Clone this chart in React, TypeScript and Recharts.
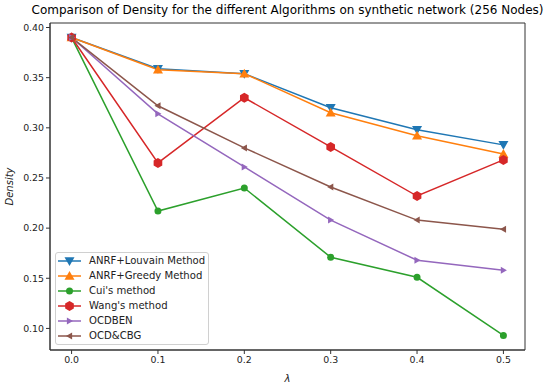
import { LineChart, Line, XAxis, YAxis, ReferenceArea } from "recharts";

const lambdas = [0, 0.1, 0.2, 0.3, 0.4, 0.5];
const louvain = [0.39, 0.359, 0.354, 0.32, 0.298, 0.283];
const greedy = [0.39, 0.358, 0.354, 0.315, 0.292, 0.274];
const cui = [0.39, 0.217, 0.24, 0.171, 0.151, 0.093];
const wang = [0.39, 0.265, 0.33, 0.281, 0.232, 0.268];
const ocdben = [0.39, 0.314, 0.261, 0.208, 0.168, 0.158];
const ocdcbg = [0.39, 0.322, 0.28, 0.241, 0.208, 0.199];

const xTicks = [0, 0.1, 0.2, 0.3, 0.4, 0.5];
const yTicks = [0.1, 0.15, 0.2, 0.25, 0.3, 0.35, 0.4];

const FONT = "'DejaVu Sans', sans-serif";

const series = [
  { key: "louvain", name: "ANRF+Louvain Method", color: "#1f77b4", marker: "down", size: 10 },
  { key: "greedy", name: "ANRF+Greedy Method", color: "#ff7f0e", marker: "up", size: 10 },
  { key: "cui", name: "Cui's method", color: "#2ca02c", marker: "circle", size: 7 },
  { key: "wang", name: "Wang's method", color: "#d62728", marker: "hex", size: 10 },
  { key: "ocdben", name: "OCDBEN", color: "#9467bd", marker: "right", size: 7 },
  { key: "ocdcbg", name: "OCD&CBG", color: "#8c564b", marker: "left", size: 7 },
];

const data = lambdas.map((x, i) => ({
  x,
  louvain: louvain[i],
  greedy: greedy[i],
  cui: cui[i],
  wang: wang[i],
  ocdben: ocdben[i],
  ocdcbg: ocdcbg[i],
}));

function markerPath(shape: string, cx: number, cy: number, s: number) {
  const r = s / 2;
  switch (shape) {
    case "down":
      return `M${cx - r},${cy - r * 0.75} L${cx + r},${cy - r * 0.75} L${cx},${cy + r} Z`;
    case "up":
      return `M${cx - r},${cy + r * 0.75} L${cx + r},${cy + r * 0.75} L${cx},${cy - r} Z`;
    case "right":
      return `M${cx - r * 0.75},${cy - r} L${cx - r * 0.75},${cy + r} L${cx + r},${cy} Z`;
    case "left":
      return `M${cx + r * 0.75},${cy - r} L${cx + r * 0.75},${cy + r} L${cx - r},${cy} Z`;
    case "hex": {
      let d = "";
      for (let k = 0; k < 6; k++) {
        const a = (Math.PI / 3) * k - Math.PI / 2;
        d += `${k === 0 ? "M" : "L"}${cx + r * Math.cos(a)},${cy + r * Math.sin(a)} `;
      }
      return d + "Z";
    }
    default:
      return `M${cx - r},${cy} a${r},${r} 0 1,0 ${2 * r},0 a${r},${r} 0 1,0 ${-2 * r},0 Z`;
  }
}

function LegendBox() {
  return (
    <div
      style={{
        position: "absolute",
        left: 55,
        top: 252,
        border: "1px solid #d0d0d0",
        borderRadius: 3,
        background: "rgba(255,255,255,0.8)",
        padding: "0px 3px 1px 1px",
        fontFamily: FONT,
        fontSize: 10.1,
        color: "#222",
      }}
    >
      {series.map((s) => (
        <div key={s.key} style={{ display: "flex", alignItems: "center", height: 15 }}>
          <svg width={26} height={14} style={{ marginRight: 6 }}>
            <line x1={1} y1={7} x2={24} y2={7} stroke={s.color} strokeWidth={1.5} />
            <path d={markerPath(s.marker, 12.5, 7, s.size)} fill={s.color} />
          </svg>
          <span>{s.name}</span>
        </div>
      ))}
    </div>
  );
}

export default function App() {
  return (
    <div style={{ position: "absolute", left: 0, top: 0, width: 550, height: 387, background: "#fff" }}>
      <div
        style={{
          position: "absolute",
          left: 0,
          width: 575,
          top: 3,
          textAlign: "center",
          fontFamily: FONT,
          fontSize: 12,
          color: "#000",
          whiteSpace: "nowrap",
        }}
      >
        Comparison of Density for the different Algorithms on synthetic network (256 Nodes)
      </div>
      <LineChart
        width={550}
        height={387}
        data={data}
        margin={{ top: 23, right: 25, left: 0, bottom: 0 }}
      >
        <ReferenceArea
          x1={-0.025}
          x2={0.525}
          y1={0.0785}
          y2={0.4045}
          fill="none"
          stroke="#333"
          strokeWidth={1}
          fillOpacity={0}
        />
        <XAxis
          dataKey="x"
          type="number"
          domain={[-0.025, 0.525]}
          ticks={xTicks}
          tickFormatter={(v) => Number(v).toFixed(1)}
          height={37}
          tickSize={4}
          stroke="#333"
          tick={{ fill: "#222", fontSize: 9.4, fontFamily: FONT }}
          allowDataOverflow
          label={{
            content: (p: any) => {
              const vb = p.viewBox;
              return (
                <text
                  x={vb.x + vb.width / 2}
                  y={vb.y + 32}
                  textAnchor="middle"
                  fontFamily={FONT}
                  fontSize={10}
                  fontStyle="italic"
                  fill="#222"
                >
                  λ
                </text>
              );
            },
          }}
        />
        <YAxis
          type="number"
          domain={[0.0785, 0.4045]}
          ticks={yTicks}
          tickFormatter={(v) => Number(v).toFixed(2)}
          width={50}
          tickSize={4}
          stroke="#333"
          tick={{ fill: "#222", fontSize: 9.4, fontFamily: FONT }}
          allowDataOverflow
          label={{
            content: (p: any) => {
              const vb = p.viewBox;
              const x = vb.x + 13;
              const y = vb.y + vb.height / 2;
              return (
                <text
                  x={x}
                  y={y}
                  transform={`rotate(-90 ${x} ${y})`}
                  textAnchor="middle"
                  fontFamily={FONT}
                  fontSize={10}
                  fontStyle="italic"
                  fill="#222"
                >
                  Density
                </text>
              );
            },
          }}
        />
        {series.map((s) => (
          <Line
            key={s.key}
            dataKey={s.key}
            name={s.name}
            stroke={s.color}
            strokeWidth={1.5}
            isAnimationActive={false}
            dot={(p: any) => (
              <path key={`${s.key}-${p.index}`} d={markerPath(s.marker, p.cx, p.cy, s.size)} fill={s.color} />
            )}
            activeDot={false}
          />
        ))}
      </LineChart>
      <LegendBox />
    </div>
  );
}
